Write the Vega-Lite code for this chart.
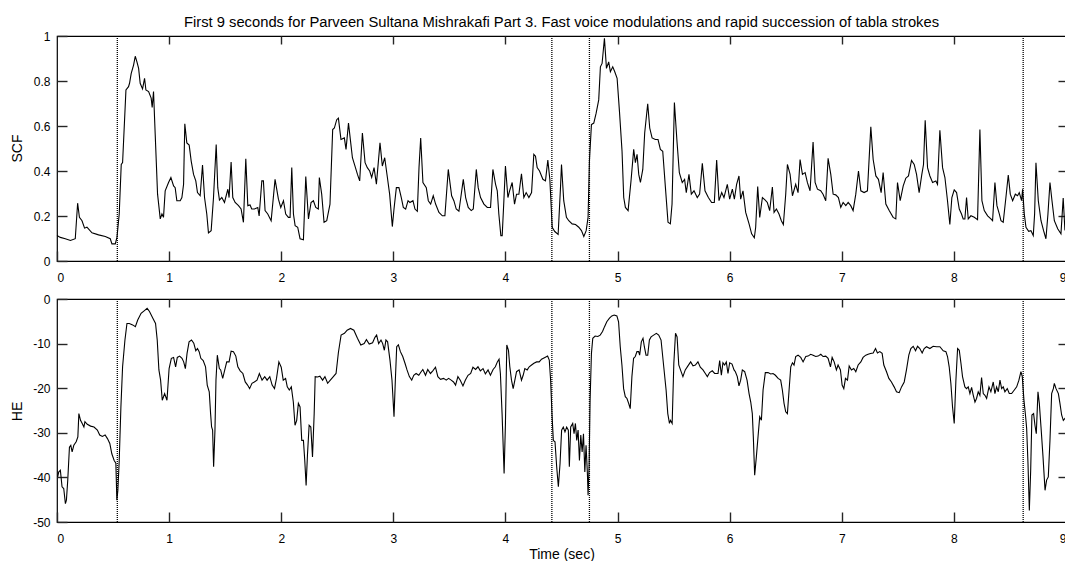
{
  "$schema": "https://vega.github.io/schema/vega-lite/v6.json",
  "background": "white",
  "padding": {"left": 9, "top": 14, "right": 0, "bottom": 0},
  "bounds": "flush",
  "spacing": 38,
  "title": {
    "text": "First 9 seconds for Parveen Sultana Mishrakafi Part 3. Fast voice modulations and rapid succession of tabla strokes",
    "fontSize": 14.75,
    "fontWeight": "normal",
    "font": "Liberation Sans",
    "color": "black",
    "anchor": "middle",
    "frame": "group",
    "offset": 0
  },
  "config": {
    "font": "Liberation Sans",
    "view": {"stroke": "black", "strokeWidth": 1.2},
    "axis": {
      "grid": false,
      "domain": false,
      "labelColor": "black",
      "titleColor": "black",
      "labelFont": "Liberation Sans",
      "titleFont": "Liberation Sans",
      "labelFontSize": 12,
      "titleFontSize": 14,
      "titleFontWeight": "normal"
    }
  },
  "datasets": {
    "cues": [{"t": 0.538}, {"t": 4.414}, {"t": 4.749}, {"t": 8.618}],
    "scf": [
      {"t":0,"v":0.113},{"t":0.03,"v":0.105},{"t":0.074,"v":0.099},{"t":0.12,"v":0.091},{"t":0.163,"v":0.099},{"t":0.184,"v":0.257},{"t":0.2,"v":0.194},{"t":0.223,"v":0.179},{"t":0.246,"v":0.146},{"t":0.267,"v":0.15},{"t":0.312,"v":0.125},{"t":0.371,"v":0.116},{"t":0.431,"v":0.109},{"t":0.475,"v":0.099},{"t":0.49,"v":0.076},{"t":0.52,"v":0.076},{"t":0.535,"v":0.106},{"t":0.555,"v":0.209},{"t":0.573,"v":0.429},{"t":0.585,"v":0.437},{"t":0.615,"v":0.76},{"t":0.638,"v":0.775},{"t":0.647,"v":0.79},{"t":0.662,"v":0.834},{"t":0.683,"v":0.871},{"t":0.698,"v":0.91},{"t":0.713,"v":0.885},{"t":0.728,"v":0.856},{"t":0.742,"v":0.79},{"t":0.763,"v":0.765},{"t":0.781,"v":0.812},{"t":0.793,"v":0.76},{"t":0.817,"v":0.753},{"t":0.84,"v":0.724},{"t":0.849,"v":0.682},{"t":0.861,"v":0.753},{"t":0.876,"v":0.562},{"t":0.897,"v":0.297},{"t":0.921,"v":0.187},{"t":0.936,"v":0.209},{"t":0.95,"v":0.194},{"t":0.965,"v":0.312},{"t":0.995,"v":0.349},{"t":1.016,"v":0.371},{"t":1.04,"v":0.334},{"t":1.054,"v":0.326},{"t":1.069,"v":0.268},{"t":1.099,"v":0.268},{"t":1.114,"v":0.282},{"t":1.129,"v":0.341},{"t":1.14,"v":0.61},{"t":1.158,"v":0.525},{"t":1.179,"v":0.515},{"t":1.197,"v":0.444},{"t":1.218,"v":0.385},{"t":1.238,"v":0.356},{"t":1.253,"v":0.304},{"t":1.277,"v":0.29},{"t":1.298,"v":0.426},{"t":1.316,"v":0.282},{"t":1.336,"v":0.209},{"t":1.351,"v":0.125},{"t":1.375,"v":0.135},{"t":1.396,"v":0.282},{"t":1.42,"v":0.518},{"t":1.434,"v":0.326},{"t":1.449,"v":0.271},{"t":1.47,"v":0.282},{"t":1.494,"v":0.26},{"t":1.524,"v":0.319},{"t":1.535,"v":0.282},{"t":1.553,"v":0.44},{"t":1.568,"v":0.282},{"t":1.589,"v":0.26},{"t":1.619,"v":0.246},{"t":1.642,"v":0.231},{"t":1.663,"v":0.172},{"t":1.684,"v":0.454},{"t":1.702,"v":0.246},{"t":1.722,"v":0.249},{"t":1.737,"v":0.231},{"t":1.761,"v":0.231},{"t":1.791,"v":0.238},{"t":1.803,"v":0.2},{"t":1.827,"v":0.356},{"t":1.841,"v":0.356},{"t":1.856,"v":0.224},{"t":1.88,"v":0.209},{"t":1.91,"v":0.179},{"t":1.945,"v":0.363},{"t":1.975,"v":0.275},{"t":1.996,"v":0.238},{"t":2.02,"v":0.268},{"t":2.04,"v":0.209},{"t":2.064,"v":0.194},{"t":2.079,"v":0.194},{"t":2.094,"v":0.415},{"t":2.109,"v":0.209},{"t":2.124,"v":0.157},{"t":2.147,"v":0.15},{"t":2.168,"v":0.099},{"t":2.198,"v":0.094},{"t":2.219,"v":0.375},{"t":2.243,"v":0.187},{"t":2.266,"v":0.26},{"t":2.287,"v":0.268},{"t":2.308,"v":0.238},{"t":2.331,"v":0.231},{"t":2.34,"v":0.371},{"t":2.361,"v":0.297},{"t":2.382,"v":0.172},{"t":2.406,"v":0.179},{"t":2.435,"v":0.253},{"t":2.459,"v":0.584},{"t":2.474,"v":0.591},{"t":2.495,"v":0.628},{"t":2.51,"v":0.635},{"t":2.533,"v":0.54},{"t":2.563,"v":0.547},{"t":2.578,"v":0.496},{"t":2.6,"v":0.613},{"t":2.635,"v":0.459},{"t":2.658,"v":0.422},{"t":2.68,"v":0.385},{"t":2.7,"v":0.356},{"t":2.724,"v":0.569},{"t":2.748,"v":0.437},{"t":2.768,"v":0.415},{"t":2.789,"v":0.4},{"t":2.807,"v":0.371},{"t":2.828,"v":0.415},{"t":2.849,"v":0.341},{"t":2.881,"v":0.525},{"t":2.902,"v":0.422},{"t":2.923,"v":0.459},{"t":2.947,"v":0.371},{"t":2.967,"v":0.297},{"t":2.991,"v":0.153},{"t":3.006,"v":0.231},{"t":3.027,"v":0.326},{"t":3.05,"v":0.326},{"t":3.071,"v":0.282},{"t":3.089,"v":0.238},{"t":3.11,"v":0.231},{"t":3.131,"v":0.268},{"t":3.148,"v":0.26},{"t":3.175,"v":0.268},{"t":3.193,"v":0.231},{"t":3.214,"v":0.221},{"t":3.229,"v":0.415},{"t":3.244,"v":0.547},{"t":3.264,"v":0.349},{"t":3.294,"v":0.326},{"t":3.312,"v":0.268},{"t":3.333,"v":0.253},{"t":3.356,"v":0.29},{"t":3.377,"v":0.253},{"t":3.407,"v":0.216},{"t":3.437,"v":0.201},{"t":3.46,"v":0.201},{"t":3.49,"v":0.407},{"t":3.52,"v":0.29},{"t":3.54,"v":0.268},{"t":3.561,"v":0.231},{"t":3.585,"v":0.221},{"t":3.624,"v":0.363},{"t":3.645,"v":0.282},{"t":3.668,"v":0.238},{"t":3.695,"v":0.224},{"t":3.713,"v":0.231},{"t":3.74,"v":0.407},{"t":3.757,"v":0.326},{"t":3.778,"v":0.282},{"t":3.808,"v":0.253},{"t":3.838,"v":0.238},{"t":3.867,"v":0.238},{"t":3.888,"v":0.407},{"t":3.912,"v":0.341},{"t":3.927,"v":0.312},{"t":3.941,"v":0.209},{"t":3.959,"v":0.113},{"t":3.971,"v":0.113},{"t":3.986,"v":0.268},{"t":4.0,"v":0.422},{"t":4.022,"v":0.282},{"t":4.037,"v":0.312},{"t":4.06,"v":0.349},{"t":4.081,"v":0.253},{"t":4.099,"v":0.297},{"t":4.12,"v":0.297},{"t":4.143,"v":0.388},{"t":4.164,"v":0.282},{"t":4.185,"v":0.304},{"t":4.209,"v":0.282},{"t":4.233,"v":0.304},{"t":4.253,"v":0.474},{"t":4.268,"v":0.466},{"t":4.283,"v":0.415},{"t":4.304,"v":0.4},{"t":4.334,"v":0.363},{"t":4.357,"v":0.356},{"t":4.378,"v":0.449},{"t":4.396,"v":0.363},{"t":4.417,"v":0.15},{"t":4.44,"v":0.131},{"t":4.47,"v":0.118},{"t":4.491,"v":0.326},{"t":4.5,"v":0.429},{"t":4.52,"v":0.268},{"t":4.544,"v":0.194},{"t":4.565,"v":0.179},{"t":4.595,"v":0.165},{"t":4.625,"v":0.162},{"t":4.654,"v":0.15},{"t":4.678,"v":0.135},{"t":4.699,"v":0.109},{"t":4.72,"v":0.135},{"t":4.737,"v":0.194},{"t":4.749,"v":0.444},{"t":4.767,"v":0.606},{"t":4.788,"v":0.613},{"t":4.809,"v":0.657},{"t":4.832,"v":0.716},{"t":4.847,"v":0.863},{"t":4.862,"v":0.878},{"t":4.883,"v":0.99},{"t":4.901,"v":0.856},{"t":4.921,"v":0.885},{"t":4.936,"v":0.841},{"t":4.957,"v":0.863},{"t":4.975,"v":0.841},{"t":4.996,"v":0.812},{"t":5.017,"v":0.665},{"t":5.04,"v":0.488},{"t":5.055,"v":0.282},{"t":5.07,"v":0.238},{"t":5.094,"v":0.224},{"t":5.12,"v":0.356},{"t":5.144,"v":0.496},{"t":5.159,"v":0.437},{"t":5.174,"v":0.474},{"t":5.189,"v":0.385},{"t":5.204,"v":0.349},{"t":5.225,"v":0.407},{"t":5.242,"v":0.569},{"t":5.269,"v":0.699},{"t":5.287,"v":0.591},{"t":5.308,"v":0.547},{"t":5.337,"v":0.54},{"t":5.361,"v":0.54},{"t":5.382,"v":0.496},{"t":5.403,"v":0.488},{"t":5.427,"v":0.326},{"t":5.45,"v":0.172},{"t":5.471,"v":0.165},{"t":5.486,"v":0.253},{"t":5.507,"v":0.704},{"t":5.53,"v":0.532},{"t":5.551,"v":0.393},{"t":5.577,"v":0.349},{"t":5.598,"v":0.363},{"t":5.613,"v":0.304},{"t":5.637,"v":0.385},{"t":5.658,"v":0.297},{"t":5.682,"v":0.312},{"t":5.711,"v":0.282},{"t":5.732,"v":0.297},{"t":5.756,"v":0.434},{"t":5.78,"v":0.312},{"t":5.81,"v":0.282},{"t":5.839,"v":0.26},{"t":5.863,"v":0.26},{"t":5.884,"v":0.449},{"t":5.905,"v":0.268},{"t":5.929,"v":0.304},{"t":5.949,"v":0.282},{"t":5.979,"v":0.341},{"t":6.0,"v":0.275},{"t":6.024,"v":0.319},{"t":6.042,"v":0.275},{"t":6.062,"v":0.341},{"t":6.083,"v":0.378},{"t":6.098,"v":0.275},{"t":6.119,"v":0.312},{"t":6.143,"v":0.216},{"t":6.173,"v":0.165},{"t":6.196,"v":0.121},{"t":6.22,"v":0.103},{"t":6.232,"v":0.15},{"t":6.25,"v":0.331},{"t":6.268,"v":0.194},{"t":6.292,"v":0.282},{"t":6.315,"v":0.272},{"t":6.336,"v":0.26},{"t":6.357,"v":0.224},{"t":6.381,"v":0.329},{"t":6.396,"v":0.216},{"t":6.417,"v":0.231},{"t":6.44,"v":0.209},{"t":6.461,"v":0.179},{"t":6.479,"v":0.162},{"t":6.5,"v":0.297},{"t":6.515,"v":0.429},{"t":6.539,"v":0.385},{"t":6.56,"v":0.29},{"t":6.589,"v":0.341},{"t":6.61,"v":0.304},{"t":6.628,"v":0.451},{"t":6.649,"v":0.385},{"t":6.673,"v":0.393},{"t":6.693,"v":0.349},{"t":6.717,"v":0.312},{"t":6.744,"v":0.529},{"t":6.762,"v":0.349},{"t":6.783,"v":0.319},{"t":6.812,"v":0.312},{"t":6.833,"v":0.297},{"t":6.857,"v":0.268},{"t":6.878,"v":0.456},{"t":6.902,"v":0.385},{"t":6.923,"v":0.297},{"t":6.946,"v":0.294},{"t":6.97,"v":0.282},{"t":6.991,"v":0.238},{"t":7.012,"v":0.26},{"t":7.036,"v":0.246},{"t":7.057,"v":0.26},{"t":7.08,"v":0.246},{"t":7.101,"v":0.224},{"t":7.125,"v":0.297},{"t":7.149,"v":0.4},{"t":7.17,"v":0.312},{"t":7.199,"v":0.304},{"t":7.229,"v":0.312},{"t":7.259,"v":0.596},{"t":7.28,"v":0.451},{"t":7.304,"v":0.378},{"t":7.327,"v":0.363},{"t":7.351,"v":0.304},{"t":7.369,"v":0.393},{"t":7.393,"v":0.253},{"t":7.423,"v":0.224},{"t":7.458,"v":0.194},{"t":7.482,"v":0.187},{"t":7.497,"v":0.349},{"t":7.521,"v":0.268},{"t":7.548,"v":0.334},{"t":7.571,"v":0.368},{"t":7.595,"v":0.378},{"t":7.622,"v":0.447},{"t":7.646,"v":0.429},{"t":7.667,"v":0.385},{"t":7.69,"v":0.304},{"t":7.714,"v":0.385},{"t":7.729,"v":0.429},{"t":7.744,"v":0.625},{"t":7.765,"v":0.415},{"t":7.786,"v":0.378},{"t":7.81,"v":0.349},{"t":7.839,"v":0.356},{"t":7.854,"v":0.341},{"t":7.875,"v":0.581},{"t":7.899,"v":0.415},{"t":7.92,"v":0.371},{"t":7.943,"v":0.268},{"t":7.964,"v":0.162},{"t":7.982,"v":0.282},{"t":8.003,"v":0.316},{"t":8.024,"v":0.304},{"t":8.048,"v":0.231},{"t":8.068,"v":0.209},{"t":8.083,"v":0.187},{"t":8.098,"v":0.187},{"t":8.113,"v":0.282},{"t":8.128,"v":0.187},{"t":8.152,"v":0.201},{"t":8.182,"v":0.194},{"t":8.211,"v":0.184},{"t":8.232,"v":0.584},{"t":8.25,"v":0.268},{"t":8.271,"v":0.224},{"t":8.301,"v":0.201},{"t":8.33,"v":0.187},{"t":8.345,"v":0.179},{"t":8.366,"v":0.349},{"t":8.384,"v":0.246},{"t":8.405,"v":0.209},{"t":8.42,"v":0.179},{"t":8.44,"v":0.172},{"t":8.464,"v":0.282},{"t":8.485,"v":0.382},{"t":8.503,"v":0.297},{"t":8.524,"v":0.268},{"t":8.548,"v":0.297},{"t":8.568,"v":0.29},{"t":8.583,"v":0.304},{"t":8.604,"v":0.268},{"t":8.613,"v":0.319},{"t":8.628,"v":0.209},{"t":8.643,"v":0.15},{"t":8.667,"v":0.132},{"t":8.687,"v":0.135},{"t":8.708,"v":0.113},{"t":8.72,"v":0.209},{"t":8.732,"v":0.437},{"t":8.753,"v":0.268},{"t":8.777,"v":0.179},{"t":8.8,"v":0.135},{"t":8.821,"v":0.099},{"t":8.839,"v":0.209},{"t":8.857,"v":0.349},{"t":8.875,"v":0.268},{"t":8.896,"v":0.179},{"t":8.926,"v":0.143},{"t":8.955,"v":0.121},{"t":8.975,"v":0.28},{"t":8.99,"v":0.14},{"t":9.0,"v":0.13}
    ],
    "he": [
      {"t":0.006,"v":-39.9},{"t":0.015,"v":-38.8},{"t":0.03,"v":-38.4},{"t":0.045,"v":-42.1},{"t":0.06,"v":-42.5},{"t":0.075,"v":-45.9},{"t":0.084,"v":-45.1},{"t":0.096,"v":-40.6},{"t":0.111,"v":-33.2},{"t":0.123,"v":-32.8},{"t":0.135,"v":-34.3},{"t":0.15,"v":-32.8},{"t":0.171,"v":-32.0},{"t":0.186,"v":-30.9},{"t":0.195,"v":-25.7},{"t":0.21,"v":-27.2},{"t":0.225,"v":-27.9},{"t":0.24,"v":-28.7},{"t":0.249,"v":-27.5},{"t":0.27,"v":-28.1},{"t":0.3,"v":-28.5},{"t":0.33,"v":-28.7},{"t":0.36,"v":-29.4},{"t":0.381,"v":-30.5},{"t":0.405,"v":-30.8},{"t":0.429,"v":-30.5},{"t":0.45,"v":-31.3},{"t":0.471,"v":-32.4},{"t":0.489,"v":-34.7},{"t":0.51,"v":-36.2},{"t":0.525,"v":-36.8},{"t":0.534,"v":-45.1},{"t":0.543,"v":-42.9},{"t":0.555,"v":-36.2},{"t":0.57,"v":-24.2},{"t":0.585,"v":-15.2},{"t":0.606,"v":-9.2},{"t":0.624,"v":-5.5},{"t":0.645,"v":-5.5},{"t":0.675,"v":-5.8},{"t":0.699,"v":-6.2},{"t":0.72,"v":-4.7},{"t":0.75,"v":-3.2},{"t":0.78,"v":-2.6},{"t":0.804,"v":-2.1},{"t":0.825,"v":-2.8},{"t":0.855,"v":-4.3},{"t":0.879,"v":-5.5},{"t":0.894,"v":-9.2},{"t":0.909,"v":-15.9},{"t":0.924,"v":-18.2},{"t":0.939,"v":-22.7},{"t":0.96,"v":-21.2},{"t":0.981,"v":-22.7},{"t":1.0,"v":-15.6},{"t":1.02,"v":-13.3},{"t":1.04,"v":-13.1},{"t":1.058,"v":-15.2},{"t":1.073,"v":-13.1},{"t":1.094,"v":-12.8},{"t":1.115,"v":-13.3},{"t":1.13,"v":-14.1},{"t":1.145,"v":-15.6},{"t":1.16,"v":-12.2},{"t":1.178,"v":-9.6},{"t":1.2,"v":-9.2},{"t":1.22,"v":-9.9},{"t":1.238,"v":-11.6},{"t":1.253,"v":-11.1},{"t":1.268,"v":-11.8},{"t":1.283,"v":-13.3},{"t":1.304,"v":-13.8},{"t":1.325,"v":-15.2},{"t":1.34,"v":-19.3},{"t":1.358,"v":-20.8},{"t":1.37,"v":-25.7},{"t":1.379,"v":-28.7},{"t":1.388,"v":-29.4},{"t":1.397,"v":-37.6},{"t":1.409,"v":-29.4},{"t":1.418,"v":-18.2},{"t":1.43,"v":-12.6},{"t":1.448,"v":-15.6},{"t":1.46,"v":-15.9},{"t":1.478,"v":-17.8},{"t":1.499,"v":-15.6},{"t":1.514,"v":-14.1},{"t":1.535,"v":-14.1},{"t":1.553,"v":-11.7},{"t":1.574,"v":-11.8},{"t":1.595,"v":-12.8},{"t":1.613,"v":-15.2},{"t":1.634,"v":-16.1},{"t":1.658,"v":-16.7},{"t":1.679,"v":-18.6},{"t":1.7,"v":-19.3},{"t":1.718,"v":-20.1},{"t":1.739,"v":-18.9},{"t":1.76,"v":-18.6},{"t":1.784,"v":-18.2},{"t":1.805,"v":-16.7},{"t":1.829,"v":-18.2},{"t":1.853,"v":-17.4},{"t":1.874,"v":-18.2},{"t":1.898,"v":-17.4},{"t":1.919,"v":-19.3},{"t":1.94,"v":-20.1},{"t":1.958,"v":-17.8},{"t":1.979,"v":-14.1},{"t":2.0,"v":-15.3},{"t":2.018,"v":-18.2},{"t":2.039,"v":-17.8},{"t":2.054,"v":-19.7},{"t":2.072,"v":-20.4},{"t":2.09,"v":-19.7},{"t":2.108,"v":-23.1},{"t":2.123,"v":-28.3},{"t":2.138,"v":-27.2},{"t":2.153,"v":-23.4},{"t":2.168,"v":-24.2},{"t":2.183,"v":-31.7},{"t":2.198,"v":-31.7},{"t":2.21,"v":-36.2},{"t":2.222,"v":-41.8},{"t":2.234,"v":-35.0},{"t":2.249,"v":-28.3},{"t":2.264,"v":-28.7},{"t":2.279,"v":-35.4},{"t":2.294,"v":-25.7},{"t":2.303,"v":-17.4},{"t":2.324,"v":-17.5},{"t":2.345,"v":-17.3},{"t":2.369,"v":-18.2},{"t":2.39,"v":-17.4},{"t":2.414,"v":-18.9},{"t":2.438,"v":-18.2},{"t":2.465,"v":-17.4},{"t":2.489,"v":-16.7},{"t":2.51,"v":-12.0},{"t":2.534,"v":-8.1},{"t":2.564,"v":-7.7},{"t":2.588,"v":-7.0},{"t":2.618,"v":-6.6},{"t":2.648,"v":-7.0},{"t":2.68,"v":-8.8},{"t":2.71,"v":-10.3},{"t":2.74,"v":-10.0},{"t":2.76,"v":-9.1},{"t":2.785,"v":-10.1},{"t":2.815,"v":-9.8},{"t":2.836,"v":-8.6},{"t":2.851,"v":-8.1},{"t":2.869,"v":-10.0},{"t":2.89,"v":-9.2},{"t":2.905,"v":-10.0},{"t":2.92,"v":-11.5},{"t":2.934,"v":-9.2},{"t":2.949,"v":-9.6},{"t":2.97,"v":-13.7},{"t":2.988,"v":-18.2},{"t":3.006,"v":-26.4},{"t":3.018,"v":-18.2},{"t":3.03,"v":-10.7},{"t":3.045,"v":-10.3},{"t":3.063,"v":-11.8},{"t":3.084,"v":-12.9},{"t":3.104,"v":-14.4},{"t":3.122,"v":-15.9},{"t":3.143,"v":-17.4},{"t":3.164,"v":-18.2},{"t":3.182,"v":-17.1},{"t":3.203,"v":-16.7},{"t":3.227,"v":-17.1},{"t":3.248,"v":-16.3},{"t":3.263,"v":-15.8},{"t":3.287,"v":-17.1},{"t":3.307,"v":-15.8},{"t":3.331,"v":-16.7},{"t":3.352,"v":-16.1},{"t":3.376,"v":-15.3},{"t":3.397,"v":-17.4},{"t":3.421,"v":-18.0},{"t":3.448,"v":-17.8},{"t":3.472,"v":-18.2},{"t":3.493,"v":-17.8},{"t":3.516,"v":-18.2},{"t":3.537,"v":-18.6},{"t":3.555,"v":-19.3},{"t":3.576,"v":-17.4},{"t":3.597,"v":-18.2},{"t":3.621,"v":-19.5},{"t":3.642,"v":-18.2},{"t":3.666,"v":-17.1},{"t":3.69,"v":-16.7},{"t":3.71,"v":-15.3},{"t":3.734,"v":-15.8},{"t":3.755,"v":-15.2},{"t":3.776,"v":-16.1},{"t":3.8,"v":-15.6},{"t":3.821,"v":-16.8},{"t":3.845,"v":-15.9},{"t":3.866,"v":-17.1},{"t":3.89,"v":-15.8},{"t":3.91,"v":-15.2},{"t":3.928,"v":-14.1},{"t":3.943,"v":-13.5},{"t":3.955,"v":-16.7},{"t":3.97,"v":-25.7},{"t":3.988,"v":-39.1},{"t":4.0,"v":-27.9},{"t":4.012,"v":-10.3},{"t":4.027,"v":-11.5},{"t":4.039,"v":-15.2},{"t":4.054,"v":-18.2},{"t":4.069,"v":-20.1},{"t":4.084,"v":-18.2},{"t":4.099,"v":-16.3},{"t":4.122,"v":-15.9},{"t":4.143,"v":-18.2},{"t":4.158,"v":-17.1},{"t":4.173,"v":-15.6},{"t":4.194,"v":-15.9},{"t":4.212,"v":-15.2},{"t":4.233,"v":-14.8},{"t":4.254,"v":-14.4},{"t":4.278,"v":-14.1},{"t":4.301,"v":-14.1},{"t":4.322,"v":-13.5},{"t":4.352,"v":-13.1},{"t":4.376,"v":-12.8},{"t":4.391,"v":-13.7},{"t":4.403,"v":-18.2},{"t":4.415,"v":-25.7},{"t":4.427,"v":-31.7},{"t":4.442,"v":-32.0},{"t":4.457,"v":-37.6},{"t":4.472,"v":-42.1},{"t":4.487,"v":-36.9},{"t":4.501,"v":-29.4},{"t":4.516,"v":-28.7},{"t":4.531,"v":-29.8},{"t":4.546,"v":-28.7},{"t":4.561,"v":-29.4},{"t":4.57,"v":-37.6},{"t":4.582,"v":-28.7},{"t":4.6,"v":-27.9},{"t":4.612,"v":-30.2},{"t":4.624,"v":-27.9},{"t":4.636,"v":-31.7},{"t":4.648,"v":-29.4},{"t":4.66,"v":-36.2},{"t":4.672,"v":-30.5},{"t":4.684,"v":-34.3},{"t":4.696,"v":-30.2},{"t":4.708,"v":-38.8},{"t":4.719,"v":-32.8},{"t":4.731,"v":-39.1},{"t":4.737,"v":-44.0},{"t":4.746,"v":-37.6},{"t":4.755,"v":-22.7},{"t":4.767,"v":-12.2},{"t":4.779,"v":-8.8},{"t":4.8,"v":-8.3},{"t":4.824,"v":-8.4},{"t":4.845,"v":-8.1},{"t":4.866,"v":-7.3},{"t":4.884,"v":-6.2},{"t":4.904,"v":-5.1},{"t":4.928,"v":-4.3},{"t":4.949,"v":-3.8},{"t":4.97,"v":-3.6},{"t":4.994,"v":-3.8},{"t":5.009,"v":-5.1},{"t":5.024,"v":-10.7},{"t":5.039,"v":-14.8},{"t":5.054,"v":-20.1},{"t":5.069,"v":-21.9},{"t":5.084,"v":-22.3},{"t":5.099,"v":-23.4},{"t":5.113,"v":-24.6},{"t":5.128,"v":-17.4},{"t":5.143,"v":-13.3},{"t":5.158,"v":-12.9},{"t":5.173,"v":-11.8},{"t":5.188,"v":-11.8},{"t":5.197,"v":-12.6},{"t":5.212,"v":-9.6},{"t":5.227,"v":-8.8},{"t":5.239,"v":-10.7},{"t":5.254,"v":-12.6},{"t":5.269,"v":-12.6},{"t":5.284,"v":-9.2},{"t":5.299,"v":-8.5},{"t":5.322,"v":-8.1},{"t":5.346,"v":-7.7},{"t":5.367,"v":-8.1},{"t":5.388,"v":-9.2},{"t":5.412,"v":-15.2},{"t":5.433,"v":-20.4},{"t":5.448,"v":-25.7},{"t":5.463,"v":-27.9},{"t":5.472,"v":-27.2},{"t":5.487,"v":-27.9},{"t":5.502,"v":-14.4},{"t":5.517,"v":-7.7},{"t":5.531,"v":-8.5},{"t":5.546,"v":-14.8},{"t":5.563,"v":-16.0},{"t":5.583,"v":-17.4},{"t":5.604,"v":-15.9},{"t":5.628,"v":-15.0},{"t":5.652,"v":-14.1},{"t":5.673,"v":-15.0},{"t":5.694,"v":-14.8},{"t":5.717,"v":-14.1},{"t":5.738,"v":-15.3},{"t":5.762,"v":-15.9},{"t":5.783,"v":-16.7},{"t":5.801,"v":-17.4},{"t":5.821,"v":-16.5},{"t":5.845,"v":-16.1},{"t":5.866,"v":-16.7},{"t":5.896,"v":-16.7},{"t":5.911,"v":-13.8},{"t":5.926,"v":-17.1},{"t":5.94,"v":-14.3},{"t":5.955,"v":-14.8},{"t":5.97,"v":-14.1},{"t":5.985,"v":-16.7},{"t":6.0,"v":-14.3},{"t":6.021,"v":-14.6},{"t":6.039,"v":-15.9},{"t":6.051,"v":-16.3},{"t":6.068,"v":-17.4},{"t":6.083,"v":-19.5},{"t":6.098,"v":-18.2},{"t":6.113,"v":-15.9},{"t":6.134,"v":-16.3},{"t":6.155,"v":-18.2},{"t":6.173,"v":-21.2},{"t":6.188,"v":-23.1},{"t":6.202,"v":-25.7},{"t":6.211,"v":-30.9},{"t":6.223,"v":-39.5},{"t":6.238,"v":-35.4},{"t":6.253,"v":-30.9},{"t":6.268,"v":-26.4},{"t":6.283,"v":-27.2},{"t":6.298,"v":-20.4},{"t":6.318,"v":-16.5},{"t":6.342,"v":-16.5},{"t":6.366,"v":-16.8},{"t":6.387,"v":-16.7},{"t":6.408,"v":-17.1},{"t":6.432,"v":-17.8},{"t":6.455,"v":-18.2},{"t":6.47,"v":-20.4},{"t":6.485,"v":-23.4},{"t":6.5,"v":-25.3},{"t":6.515,"v":-25.7},{"t":6.53,"v":-20.4},{"t":6.545,"v":-15.2},{"t":6.56,"v":-14.3},{"t":6.574,"v":-14.8},{"t":6.589,"v":-12.9},{"t":6.61,"v":-12.6},{"t":6.634,"v":-13.1},{"t":6.655,"v":-14.1},{"t":6.679,"v":-12.9},{"t":6.699,"v":-12.8},{"t":6.723,"v":-12.4},{"t":6.744,"v":-12.6},{"t":6.768,"v":-12.9},{"t":6.789,"v":-12.8},{"t":6.813,"v":-12.4},{"t":6.833,"v":-12.9},{"t":6.857,"v":-12.8},{"t":6.878,"v":-13.3},{"t":6.899,"v":-15.2},{"t":6.914,"v":-13.1},{"t":6.932,"v":-14.1},{"t":6.952,"v":-15.9},{"t":6.967,"v":-14.8},{"t":6.988,"v":-15.9},{"t":7.003,"v":-19.3},{"t":7.018,"v":-20.1},{"t":7.033,"v":-17.8},{"t":7.051,"v":-18.2},{"t":7.066,"v":-15.0},{"t":7.086,"v":-15.9},{"t":7.107,"v":-15.6},{"t":7.125,"v":-16.3},{"t":7.146,"v":-14.8},{"t":7.17,"v":-14.1},{"t":7.19,"v":-13.1},{"t":7.214,"v":-12.6},{"t":7.235,"v":-12.4},{"t":7.256,"v":-12.2},{"t":7.28,"v":-12.1},{"t":7.301,"v":-11.1},{"t":7.318,"v":-12.1},{"t":7.339,"v":-11.8},{"t":7.36,"v":-12.2},{"t":7.375,"v":-14.8},{"t":7.399,"v":-16.3},{"t":7.42,"v":-17.8},{"t":7.443,"v":-18.6},{"t":7.467,"v":-19.7},{"t":7.488,"v":-20.8},{"t":7.512,"v":-21.0},{"t":7.533,"v":-19.7},{"t":7.557,"v":-18.6},{"t":7.577,"v":-15.9},{"t":7.598,"v":-12.6},{"t":7.616,"v":-11.1},{"t":7.637,"v":-10.6},{"t":7.658,"v":-11.6},{"t":7.676,"v":-10.6},{"t":7.696,"v":-11.1},{"t":7.717,"v":-12.1},{"t":7.735,"v":-11.1},{"t":7.756,"v":-10.7},{"t":7.786,"v":-11.1},{"t":7.815,"v":-10.6},{"t":7.845,"v":-10.7},{"t":7.875,"v":-10.7},{"t":7.905,"v":-11.6},{"t":7.929,"v":-11.8},{"t":7.943,"v":-12.9},{"t":7.958,"v":-15.2},{"t":7.973,"v":-18.9},{"t":7.988,"v":-24.2},{"t":8.003,"v":-27.9},{"t":8.018,"v":-18.2},{"t":8.033,"v":-11.1},{"t":8.048,"v":-11.5},{"t":8.063,"v":-14.4},{"t":8.077,"v":-17.4},{"t":8.098,"v":-19.7},{"t":8.113,"v":-20.1},{"t":8.128,"v":-19.7},{"t":8.143,"v":-21.2},{"t":8.158,"v":-19.8},{"t":8.173,"v":-21.6},{"t":8.188,"v":-23.1},{"t":8.202,"v":-22.3},{"t":8.217,"v":-20.8},{"t":8.232,"v":-21.6},{"t":8.247,"v":-17.6},{"t":8.262,"v":-21.2},{"t":8.277,"v":-21.6},{"t":8.292,"v":-22.3},{"t":8.313,"v":-19.7},{"t":8.33,"v":-20.8},{"t":8.351,"v":-18.6},{"t":8.366,"v":-21.2},{"t":8.381,"v":-19.7},{"t":8.396,"v":-20.8},{"t":8.411,"v":-18.2},{"t":8.426,"v":-20.1},{"t":8.44,"v":-19.7},{"t":8.455,"v":-20.8},{"t":8.476,"v":-20.1},{"t":8.494,"v":-21.2},{"t":8.515,"v":-21.2},{"t":8.539,"v":-20.4},{"t":8.56,"v":-19.7},{"t":8.58,"v":-18.2},{"t":8.598,"v":-16.3},{"t":8.61,"v":-17.4},{"t":8.625,"v":-22.7},{"t":8.64,"v":-26.4},{"t":8.649,"v":-29.0},{"t":8.661,"v":-36.9},{"t":8.673,"v":-47.4},{"t":8.685,"v":-38.4},{"t":8.696,"v":-26.0},{"t":8.711,"v":-25.7},{"t":8.723,"v":-28.3},{"t":8.735,"v":-30.2},{"t":8.75,"v":-20.8},{"t":8.762,"v":-23.4},{"t":8.777,"v":-28.7},{"t":8.795,"v":-35.4},{"t":8.813,"v":-42.9},{"t":8.827,"v":-40.6},{"t":8.842,"v":-39.9},{"t":8.857,"v":-31.7},{"t":8.872,"v":-21.2},{"t":8.887,"v":-20.1},{"t":8.896,"v":-18.9},{"t":8.911,"v":-20.1},{"t":8.932,"v":-21.2},{"t":8.946,"v":-23.4},{"t":8.961,"v":-26.0},{"t":8.976,"v":-27.2},{"t":9.0,"v":-26.5}
    ]
  },
  "vconcat": [
    {
      "width": 1009,
      "height": 225,
      "layer": [
        {
          "data": {"name": "scf"},
          "mark": {"type": "line", "color": "black", "strokeWidth": 1.1},
          "encoding": {
            "x": {
              "field": "t", "type": "quantitative",
              "scale": {"domain": [0, 9], "nice": false, "zero": false},
              "axis": {"orient": "bottom", "values": [0,1,2,3,4,5,6,7,8,9], "domain": false, "tickColor": "#262626", "tickWidth": 1.4, "tickSize": -10, "labelPadding": 21, "title": null, "labelExpr": "'' + datum.value"}
            },
            "y": {
              "field": "v", "type": "quantitative",
              "scale": {"domain": [0, 1], "nice": false},
              "axis": {"orient": "left", "values": [0,0.2,0.4,0.6,0.8,1], "domain": false, "tickColor": "#262626", "tickWidth": 1.4, "tickSize": -10, "labelPadding": 17, "title": "SCF", "titleX": -36, "titleY": 112, "titleBaseline": "alphabetic", "titleAngle": -90, "labelExpr": "'' + datum.value"}
            }
          }
        },
        {
          "data": {"name": "cues"},
          "mark": {"type": "rule", "color": "#000000", "strokeWidth": 1.3, "strokeDash": [1, 1]},
          "encoding": {
            "x": {
              "field": "t", "type": "quantitative",
              "axis": {"orient": "top", "values": [1,2,3,4,5,6,7,8], "labels": false, "domain": false, "tickColor": "#262626", "tickWidth": 1.4, "tickSize": -8, "title": null}
            },
            "y": {"datum": 0, "type": "quantitative", "axis": {"orient": "right", "values": [0.2,0.4,0.6,0.8], "labels": false, "domain": false, "tickColor": "#262626", "tickWidth": 1.4, "tickSize": -8, "title": null}},
            "y2": {"datum": 1}
          }
        }
      ],
      "resolve": {"axis": {"x": "independent", "y": "independent"}}
    },
    {
      "width": 1009,
      "height": 223,
      "layer": [
        {
          "data": {"name": "he"},
          "mark": {"type": "line", "color": "black", "strokeWidth": 1.1},
          "encoding": {
            "x": {
              "field": "t", "type": "quantitative",
              "scale": {"domain": [0, 9], "nice": false, "zero": false},
              "axis": {"orient": "bottom", "values": [0,1,2,3,4,5,6,7,8,9], "domain": false, "tickColor": "#262626", "tickWidth": 1.4, "tickSize": -10, "labelPadding": 21, "title": "Time (sec)", "titlePadding": 3, "labelExpr": "'' + datum.value"}
            },
            "y": {
              "field": "v", "type": "quantitative",
              "scale": {"domain": [-50, 0], "nice": false, "zero": false},
              "axis": {"orient": "left", "values": [-50,-40,-30,-20,-10,0], "domain": false, "tickColor": "#262626", "tickWidth": 1.4, "tickSize": -10, "labelPadding": 17, "title": "HE", "titleX": -36, "titleY": 112, "titleBaseline": "alphabetic", "titleAngle": -90, "labelExpr": "'' + datum.value"}
            }
          }
        },
        {
          "data": {"name": "cues"},
          "mark": {"type": "rule", "color": "#000000", "strokeWidth": 1.3, "strokeDash": [1, 1]},
          "encoding": {
            "x": {
              "field": "t", "type": "quantitative",
              "axis": {"orient": "top", "values": [1,2,3,4,5,6,7,8], "labels": false, "domain": false, "tickColor": "#262626", "tickWidth": 1.4, "tickSize": -8, "title": null}
            },
            "y": {"datum": -50, "type": "quantitative", "axis": {"orient": "right", "values": [-40,-30,-20,-10], "labels": false, "domain": false, "tickColor": "#262626", "tickWidth": 1.4, "tickSize": -8, "title": null}},
            "y2": {"datum": 0}
          }
        }
      ],
      "resolve": {"axis": {"x": "independent", "y": "independent"}}
    }
  ]
}
